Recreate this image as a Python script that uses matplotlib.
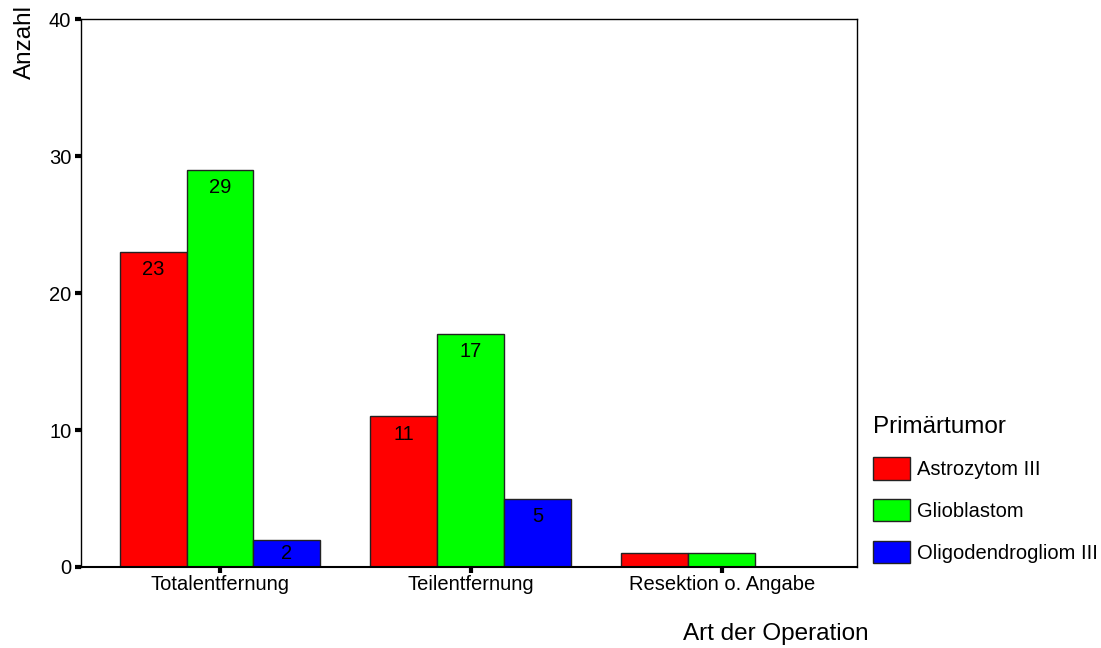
import numpy as np
import matplotlib.pyplot as plt

plt.rcParams['font.family'] = ['Liberation Sans', 'DejaVu Sans']

categories = ['Totalentfernung', 'Teilentfernung', 'Resektion o. Angabe']
series = ['Astrozytom III', 'Glioblastom', 'Oligodendrogliom III']
astro = [23, 11, 1]
glio = [29, 17, 1]
oligo = [2, 5, 0]
colors = ['#ff0000', '#00ff00', '#0000ff']

fig = plt.figure(figsize=(11.01, 6.48), dpi=100)
ax = fig.add_axes([0.0736, 0.125, 0.7044, 0.8455])

x = np.arange(len(categories))
w = 0.267
for i, (vals, col, name) in enumerate(zip([astro, glio, oligo], colors, series)):
    pos = x + (i - 1) * w
    ax.bar(pos, vals, w, color=col, edgecolor='#222222', linewidth=1, label=name)
    # value labels just under the top, centred in short bars
    for xp, v in zip(pos, vals):
        if v >= 2:
            ax.text(xp, max(v - 1.3, v / 2), str(v), ha='center', va='center', fontsize=14.5)

ax.set_xlim(-0.554, 2.538)
ax.set_ylim(0, 40)
ax.set_yticks([0, 10, 20, 30, 40])
ax.set_xticks(x)
ax.set_xticklabels(categories, fontsize=14.5)
ax.tick_params(axis='y', direction='out', length=4, width=3, labelsize=14.5, pad=3)
ax.tick_params(axis='x', direction='out', length=4, width=3, pad=2)
for s in ax.spines.values():
    s.set_linewidth(1)
ax.spines['bottom'].set_linewidth(1.5)

fig.text(0.023, 0.993, 'Anzahl', rotation=90, ha='center', va='top', fontsize=17.5)
fig.text(0.789, 0.0125, 'Art der Operation', ha='right', va='baseline', fontsize=17.5)

fig.legend(loc='upper left', bbox_to_anchor=(0.793, 0.358), frameon=False,
           title='Primärtumor', title_fontsize=17.5, fontsize=14.5, alignment='left',
           handlelength=1.84, handleheight=1.35, labelspacing=0.95, handletextpad=0.35,
           borderaxespad=0, borderpad=0)

fig.savefig('out.png', dpi=100)
